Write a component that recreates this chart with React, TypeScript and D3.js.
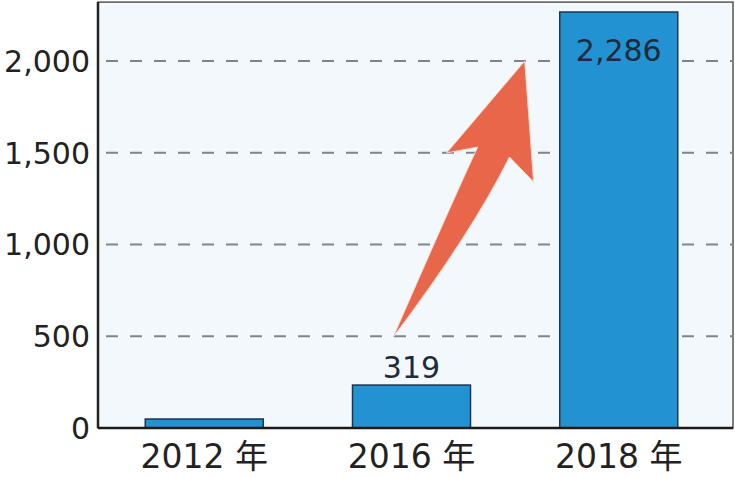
import React from "react";
import * as d3 from "d3";

const categories = ["2012 年", "2016 年", "2018 年"];
const values = [49, 234, 2267];
const valueLabels = ["", "319", "2,286"];
const yTicks = [0, 500, 1000, 1500, 2000];

// arrow annotation in data space: [x fraction of plot width (0-100), value]
const arrowTail: [number, number] = [46.5, 496];
const arrowLeftNotch: [number, number] = [59.8, 1531];
const arrowLeftBarb: [number, number] = [54.9, 1499];
const arrowHead: [number, number] = [67.2, 2000];
const arrowRightBarb: [number, number] = [68.6, 1341];
const arrowRightNotch: [number, number] = [64.8, 1477];
const arrowLeftCtrl: [number, number] = [56.0, 1250];
const arrowRightCtrl: [number, number] = [58.8, 1060];

const W = 735;
const H = 477;
const left = 98;
const right = 733;
const bottom = 428;

export default function App() {
  const y = d3.scaleLinear().domain([0, 2000]).range([bottom, 61]);
  const top = y(2321);
  const x = d3
    .scaleBand<string>()
    .domain(categories)
    .range([left, 725])
    .paddingInner(0.4306)
    .paddingOuter(0.228);
  const ax = d3.scaleLinear().domain([0, 100]).range([left, right]);
  const P = (p: [number, number]) => `${ax(p[0])},${y(p[1])}`;
  const arrowPath =
    `M${P(arrowTail)} Q${P(arrowLeftCtrl)} ${P(arrowLeftNotch)} L${P(arrowLeftBarb)} L${P(arrowHead)} L${P(arrowRightBarb)} L${P(arrowRightNotch)} Q${P(arrowRightCtrl)} ${P(arrowTail)} Z`;
  const font = "'DejaVu Sans', 'Noto Sans CJK JP', sans-serif";

  return (
    <svg
      width={W}
      height={H}
      style={{ position: "absolute", left: 0, top: 0, background: "#ffffff" }}
    >
      <rect x={left} y={top} width={right - left} height={bottom - top} fill="#f3f8fd" stroke="#555" strokeWidth={1.5} />
      {yTicks.filter((t) => t > 0).map((t) => (
        <line key={t} x1={left + 8} x2={right} y1={y(t)} y2={y(t)} stroke="#80858c" strokeWidth={1.8} strokeDasharray="12,12" />
      ))}
      {categories.map((c, i) => (
        <rect
          key={c}
          x={x(c)}
          y={y(values[i])}
          width={x.bandwidth()}
          height={bottom - y(values[i])}
          fill="#2392d2"
          stroke="#1c3550"
          strokeWidth={1.5}
        />
      ))}
      <path d={arrowPath} fill="#e8674a" stroke="#fbd9cc" strokeWidth={1} strokeLinejoin="miter" />
      <line x1={left} x2={left} y1={top} y2={bottom} stroke="#222" strokeWidth={2.5} />
      <line x1={left} x2={right} y1={bottom} y2={bottom} stroke="#1a1a1a" strokeWidth={2.5} />
      {yTicks.map((t) => (
        <text key={t} x={90} y={y(t)} dy="0.36em" textAnchor="end" fontFamily={font} fontSize={30} fill="#222">
          {d3.format(",")(t)}
        </text>
      ))}
      {categories.map((c) => (
        <text key={c} x={(x(c) as number) + x.bandwidth() / 2} y={468} textAnchor="middle" fontFamily={font} fontSize={33} fill="#222">
          {c}
        </text>
      ))}
      {categories.map((c, i) => {
        if (!valueLabels[i]) return null;
        const barTop = y(values[i]);
        const inside = bottom - barTop > 120;
        return (
          <text
            key={c + "l"}
            x={(x(c) as number) + x.bandwidth() / 2}
            y={inside ? barTop + 49 : barTop - 7}
            textAnchor="middle"
            fontFamily={font}
            fontSize={30}
            fill="#1d2b3a"
          >
            {valueLabels[i]}
          </text>
        );
      })}
    </svg>
  );
}
